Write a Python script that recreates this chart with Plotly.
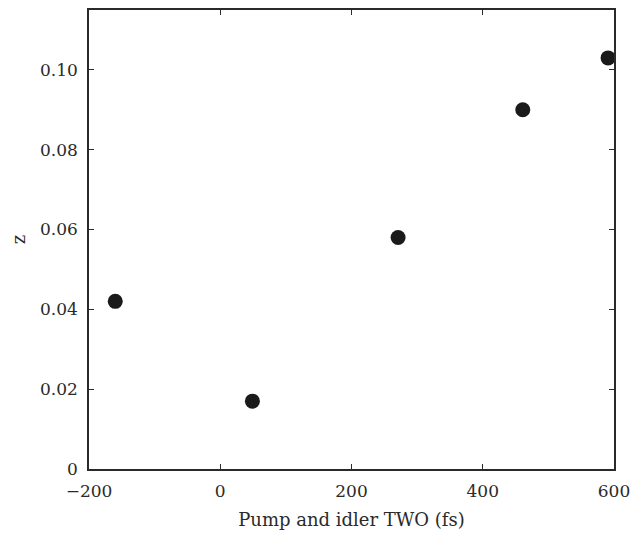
import plotly.graph_objects as go

# pump and idler TWO (fs) vs z
two_fs = [-160, 49, 271, 461, 591]
z_vals = [0.042, 0.017, 0.058, 0.090, 0.103]

x_ticks = [-200, 0, 200, 400, 600]
x_labels = ["\u2212200", "0", "200", "400", "600"]
y_ticks = [0, 0.02, 0.04, 0.06, 0.08, 0.10]
y_labels = ["0", "0.02", "0.04", "0.06", "0.08", "0.10"]

serif = "DejaVu Serif, Liberation Serif, serif"
ink = "#2a2a2a"

fig = go.Figure()
fig.add_trace(go.Scatter(
    x=two_fs, y=z_vals, mode="markers",
    marker=dict(size=15, color="#1a1a1a"),
    showlegend=False, cliponaxis=False))

axis_style = dict(
    showline=True, linecolor=ink, linewidth=1.5, mirror="ticks",
    ticks="inside", ticklen=5, tickcolor=ink, showgrid=False, zeroline=False,
    tickfont=dict(family=serif, size=17, color=ink))

fig.update_xaxes(range=[-200, 600], tickvals=x_ticks, ticktext=x_labels,
                 ticklabelstandoff=6, ticklabeloverflow="allow",
                 title=dict(text="Pump and idler TWO (fs)", standoff=13,
                            font=dict(family=serif, size=18, color=ink)),
                 **axis_style)
fig.update_yaxes(range=[0, 0.115], tickvals=y_ticks, ticktext=y_labels,
                 ticklabelstandoff=6,
                 title=dict(text="z", standoff=10,
                            font=dict(family=serif, size=18, color=ink)),
                 **axis_style)

fig.update_layout(width=632, height=537, margin=dict(l=89, r=18, t=10, b=68, autoexpand=False),
                  plot_bgcolor="white", paper_bgcolor="white")

# drop the default page margin so the figure fills the window
fig.write_html("out.html", config={"displayModeBar": False},
               post_script="document.body.style.margin='0px';document.body.style.overflow='hidden';")
